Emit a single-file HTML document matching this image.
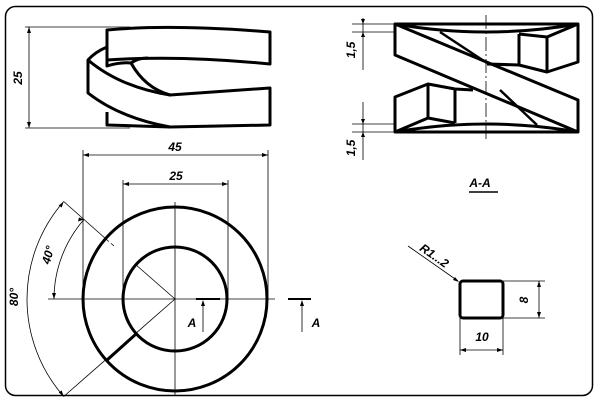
<!DOCTYPE html>
<html><head><meta charset="utf-8"><style>
html,body{margin:0;padding:0;background:#fff;}
svg{display:block;}
text{font-family:"Liberation Sans",sans-serif;font-weight:bold;font-style:italic;font-size:12px;fill:#000;}
</style></head><body>
<svg width="600" height="402" viewBox="0 0 600 402" xmlns="http://www.w3.org/2000/svg">
<rect x="5.5" y="6.5" width="587" height="389" rx="10" fill="none" stroke="#000" stroke-width="1.5"/>

<!-- top-left view -->
<g fill="none" stroke="#000" stroke-width="0.8">
<line x1="25" y1="27" x2="130" y2="27"/><line x1="25" y1="128" x2="130" y2="128"/>
<line x1="29" y1="27" x2="29" y2="128"/>
</g>
<path d="M29 27 l-2 6 h4z M29 128 l-2 -6 h4z" fill="#000"/>
<text transform="translate(22,78) rotate(-90)" text-anchor="middle">25</text>
<g fill="#fff" stroke="#000" stroke-width="3" stroke-linejoin="round">
<path d="M107 47 Q95 52 88 60 L88 93 Q120 118 170 127 L270 125 L270 88 L170 95 Q145 88 131 63 Q120 62 107 66 Z"/>
<path d="M88 60 Q120 87 170 95" fill="none"/>
<path d="M107 112 L107 125 L170 127" fill="none"/>
<path d="M107 30 Q170 24 270 32 L270 64 Q180 55 107 60 Z"/>
<path d="M131 63 Q138 58 148 58" fill="none"/>
</g>

<!-- right section A-A -->
<line x1="486" y1="15" x2="486" y2="142" stroke="#000" stroke-width="0.8" stroke-dasharray="14,3,2,3"/>
<g fill="none" stroke="#000" stroke-width="0.8">
<line x1="352" y1="24" x2="395" y2="24"/><line x1="352" y1="32" x2="395" y2="32"/>
<line x1="363" y1="18" x2="363" y2="70"/>
<line x1="352" y1="124" x2="395" y2="124"/><line x1="352" y1="132" x2="395" y2="132"/>
<line x1="363" y1="102" x2="363" y2="160"/>
</g>
<path d="M363 24 l-2 -5 h4z M363 32 l-2 5 h4z M363 124 l-2 -5 h4z M363 132 l-2 5 h4z" fill="#000"/>
<text transform="translate(355,50) rotate(-90)" text-anchor="middle">1,5</text>
<text transform="translate(355,148) rotate(-90)" text-anchor="middle">1,5</text>
<g fill="none" stroke="#000" stroke-width="3" stroke-linejoin="round">
<path d="M395 24 L578 24 L578 62 L547 72 L519 65 L487 64"/>
<path d="M395 24 Q486 40 578 24"/>
<path d="M395 24 L578 100 L578 132 L395 55 Z"/>
<path d="M578 132 L395 132 L395 97 L428 84 L455 89 L473 90"/>
<path d="M395 132 Q486 116 578 132"/>
<path d="M519 34 L519 65 M547 37 L547 72 M519 34 L547 37 L578 24"/>
<path d="M428 84 L428 118 M455 89 L455 123 M395 132 L428 118 L455 123"/>
<path d="M440 32 L487 63 M500 90 L537 125" stroke-width="2.5"/>
</g>
<text x="480" y="187" text-anchor="middle">A-A</text>
<line x1="469" y1="192" x2="498" y2="192" stroke="#000" stroke-width="1.5"/>

<!-- plan view -->
<g fill="none" stroke="#000" stroke-width="0.8">
<line x1="48" y1="299" x2="275" y2="299"/>
<line x1="175" y1="202" x2="175" y2="395"/>
<line x1="83" y1="150" x2="83" y2="299"/><line x1="268" y1="150" x2="268" y2="299"/>
<line x1="123" y1="180" x2="123" y2="299"/><line x1="228" y1="180" x2="228" y2="299"/>
<line x1="83" y1="155" x2="268" y2="155"/><line x1="123" y1="184" x2="228" y2="184"/>
<line x1="175" y1="299" x2="135" y2="264"/>
<line x1="114" y1="246" x2="106" y2="239" stroke-dasharray="4,3"/>
<line x1="106" y1="239" x2="63.7" y2="201.5"/>
<line x1="175" y1="299" x2="63.7" y2="396.5"/>
<path d="M54 299 A121 121 0 0 1 84 219.5"/>
<path d="M63.7 201.5 A148 148 0 0 0 27 299 A148 148 0 0 0 63.7 396.5"/>
<line x1="203" y1="332" x2="203" y2="301"/><line x1="302" y1="332" x2="302" y2="301"/>
</g>
<path d="M83 155 l6 -2 v4z M268 155 l-6 -2 v4z M123 184 l6 -2 v4z M228 184 l-6 -2 v4z M203 300 l-2 6 h4z M302 300 l-2 6 h4z M54 299 l-2 -6 h4z M84 219.5 l-6 2 l1 -4z M63.7 201.5 l-2 6 l-3 -2z M63.7 396.5 l-2 -6 l-3 2z" fill="#000"/>
<text x="175" y="151" text-anchor="middle">45</text>
<text x="176" y="180" text-anchor="middle">25</text>
<text transform="translate(52,256) rotate(-75)" text-anchor="middle">40°</text>
<text transform="translate(18,297) rotate(-90)" text-anchor="middle">80°</text>
<text x="192" y="327" text-anchor="middle">A</text>
<text x="316" y="327" text-anchor="middle">A</text>
<g fill="none" stroke="#000" stroke-width="3">
<circle cx="175" cy="299" r="92"/>
<circle cx="175" cy="299" r="52"/>
<line x1="136" y1="334" x2="106" y2="361"/>
<line x1="196" y1="299" x2="220" y2="299" stroke-width="2"/>
<line x1="288" y1="299" x2="311" y2="299" stroke-width="2"/>
</g>

<!-- profile -->
<rect x="460" y="281" width="43" height="37" rx="3" fill="none" stroke="#000" stroke-width="3"/>
<g fill="none" stroke="#000" stroke-width="0.8">
<line x1="503" y1="281" x2="545" y2="281"/><line x1="503" y1="318" x2="545" y2="318"/>
<line x1="539" y1="281" x2="539" y2="318"/>
<line x1="460" y1="318" x2="460" y2="355"/><line x1="503" y1="318" x2="503" y2="355"/>
<line x1="460" y1="350" x2="503" y2="350"/>
<line x1="408" y1="246" x2="458" y2="281"/>
</g>
<path d="M539 281 l-2 6 h4z M539 318 l-2 -6 h4z M460 350 l6 -2 v4z M503 350 l-6 -2 v4z M459 282 l-6 -2 l2 -3z" fill="#000"/>
<text transform="translate(528,300) rotate(-90)" text-anchor="middle">8</text>
<text x="482" y="341" text-anchor="middle">10</text>
<text transform="translate(432,259) rotate(35)" text-anchor="middle">R1...2</text>
</svg>
</body></html>
